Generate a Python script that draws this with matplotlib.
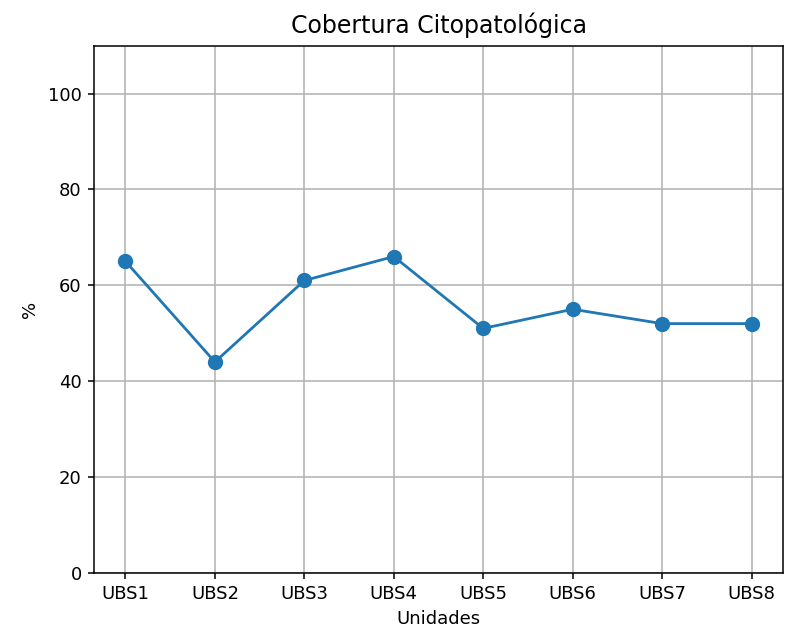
import matplotlib.pyplot as plt

# Dados
unidades = ["UBS1", "UBS2", "UBS3", "UBS4", "UBS5", "UBS6", "UBS7", "UBS8"]
cobertura = [65, 44, 61, 66, 51, 55, 52, 52]

fig, ax = plt.subplots(figsize=(7.98, 6.35), dpi=100)
fig.subplots_adjust(left=0.118, right=0.981, top=0.928, bottom=0.098)

ax.plot(unidades, cobertura, marker="o", markersize=10, linewidth=2, color="#1f77b4")
ax.set_title("Cobertura Citopatológica", fontsize=17, pad=9)
ax.set_xlabel("Unidades", fontsize=13, labelpad=5)
ax.set_ylabel("%", fontsize=13, labelpad=6)
ax.set_ylim(0, 110)
ax.tick_params(labelsize=13, length=4.5, width=1.1, pad=4.5)
for s in ax.spines.values():
    s.set_linewidth(1.1)
ax.grid(True, linewidth=1.1)

plt.savefig("out.png")
